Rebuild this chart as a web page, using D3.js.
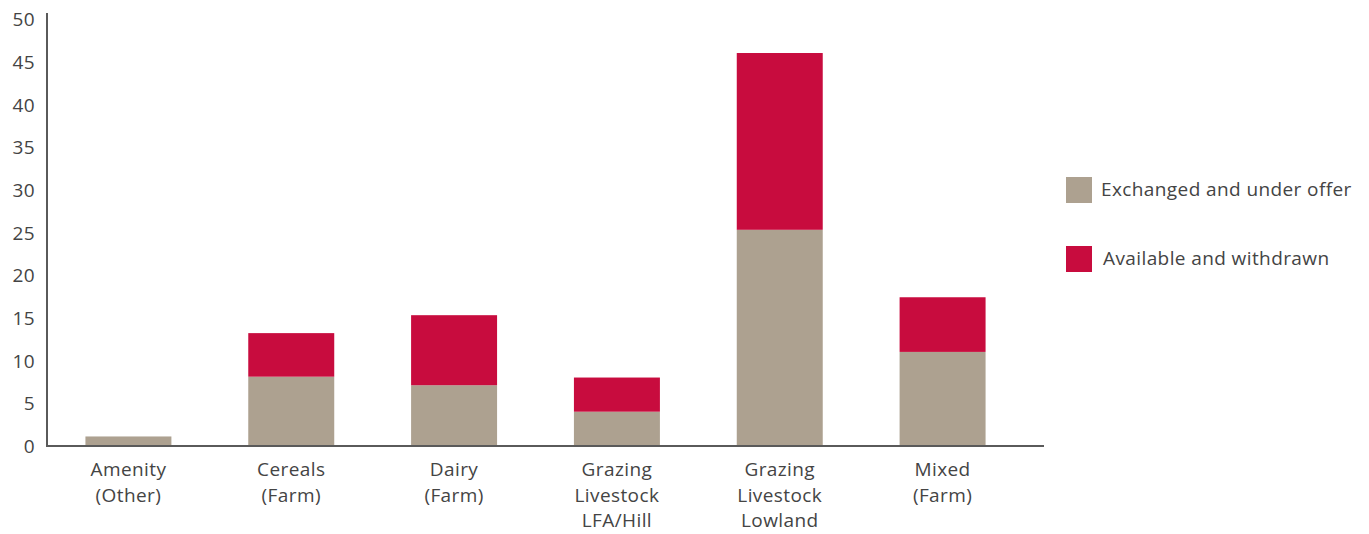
<!DOCTYPE html>
<html>
<head>
<meta charset="utf-8">
<script src="https://cdn.jsdelivr.net/npm/d3@7"></script>
<style>
  html, body { margin: 0; padding: 0; background: #fff; }
  svg text { font-family: "Open Sans", "Noto Sans", sans-serif; fill: #444; letter-spacing: 0.4px; }
</style>
</head>
<body>
<svg id="chart" width="1369" height="534"></svg>
<script>
// Categories (each label split into lines)
const categories = [
  ["Amenity", "(Other)"],
  ["Cereals", "(Farm)"],
  ["Dairy", "(Farm)"],
  ["Grazing", "Livestock", "LFA/Hill"],
  ["Grazing", "Livestock", "Lowland"],
  ["Mixed", "(Farm)"]
];
const exchanged = [1, 8, 7, 3.9, 25.2, 10.9];
const available = [0, 5.1, 8.2, 4.0, 20.7, 6.4];
const seriesNames = ["Exchanged and under offer", "Available and withdrawn"];
const yTicks = [0, 5, 10, 15, 20, 25, 30, 35, 40, 45, 50];

const colors = ["#ada190", "#c80c3e"];

const svg = d3.select("#chart");
const plotLeft = 47, plotRight = 1024, plotTop = 18, plotBottom = 445;

const keys = categories.map((c, i) => i);
const x = d3.scaleBand().domain(keys).range([plotLeft, plotRight]).paddingInner(0.472).paddingOuter(0.236);
const y = d3.scaleLinear().domain([0, 50]).range([plotBottom, plotTop]);

const rows = keys.map(i => ({ key: i, s0: exchanged[i], s1: available[i] }));
const stacked = d3.stack().keys(["s0", "s1"])(rows);

svg.append("g").selectAll("g")
  .data(stacked)
  .join("g")
  .attr("fill", (d, i) => colors[i])
  .selectAll("rect")
  .data(d => d.filter(p => p[1] - p[0] > 0))
  .join("rect")
  .attr("x", d => x(d.data.key))
  .attr("width", x.bandwidth())
  .attr("y", d => y(d[1]))
  .attr("height", d => y(d[0]) - y(d[1]));

// Y axis: labels only, plus a plain vertical rule
const yAxis = d3.axisLeft(y).tickValues(yTicks).tickSize(0).tickPadding(0);
const yg = svg.append("g").attr("transform", `translate(35,1)`).call(yAxis);
yg.select(".domain").remove();
yg.selectAll("text").attr("font-size", 19).attr("fill", "#444")
  .attr("font-family", "'Open Sans', 'Noto Sans', sans-serif").attr("dy", "0.35em");

svg.append("line")
  .attr("x1", 47).attr("x2", 47).attr("y1", 13).attr("y2", 447)
  .attr("stroke", "#5a5a5a").attr("stroke-width", 2);
svg.append("line")
  .attr("x1", 46).attr("x2", 1044).attr("y1", 446).attr("y2", 446)
  .attr("stroke", "#5a5a5a").attr("stroke-width", 2);

// Category labels
const xg = svg.append("g");
categories.forEach((lines, i) => {
  const t = xg.append("text")
    .attr("x", x(i) + x.bandwidth() / 2)
    .attr("y", 476)
    .attr("text-anchor", "middle")
    .attr("font-size", 19);
  lines.forEach((ln, j) => {
    t.append("tspan").attr("x", x(i) + x.bandwidth() / 2).attr("dy", j === 0 ? 0 : 25.5).text(ln);
  });
});

// Legend
const legend = svg.append("g");
seriesNames.forEach((name, i) => {
  const gy = 177 + i * 69;
  legend.append("rect").attr("x", 1066).attr("y", gy).attr("width", 26).attr("height", 26).attr("fill", colors[i]);
  legend.append("text").attr("x", 1101 + i * 2).attr("y", gy + 12).attr("dy", "0.35em")
    .attr("font-size", 19).text(name);
});
</script>
</body>
</html>
